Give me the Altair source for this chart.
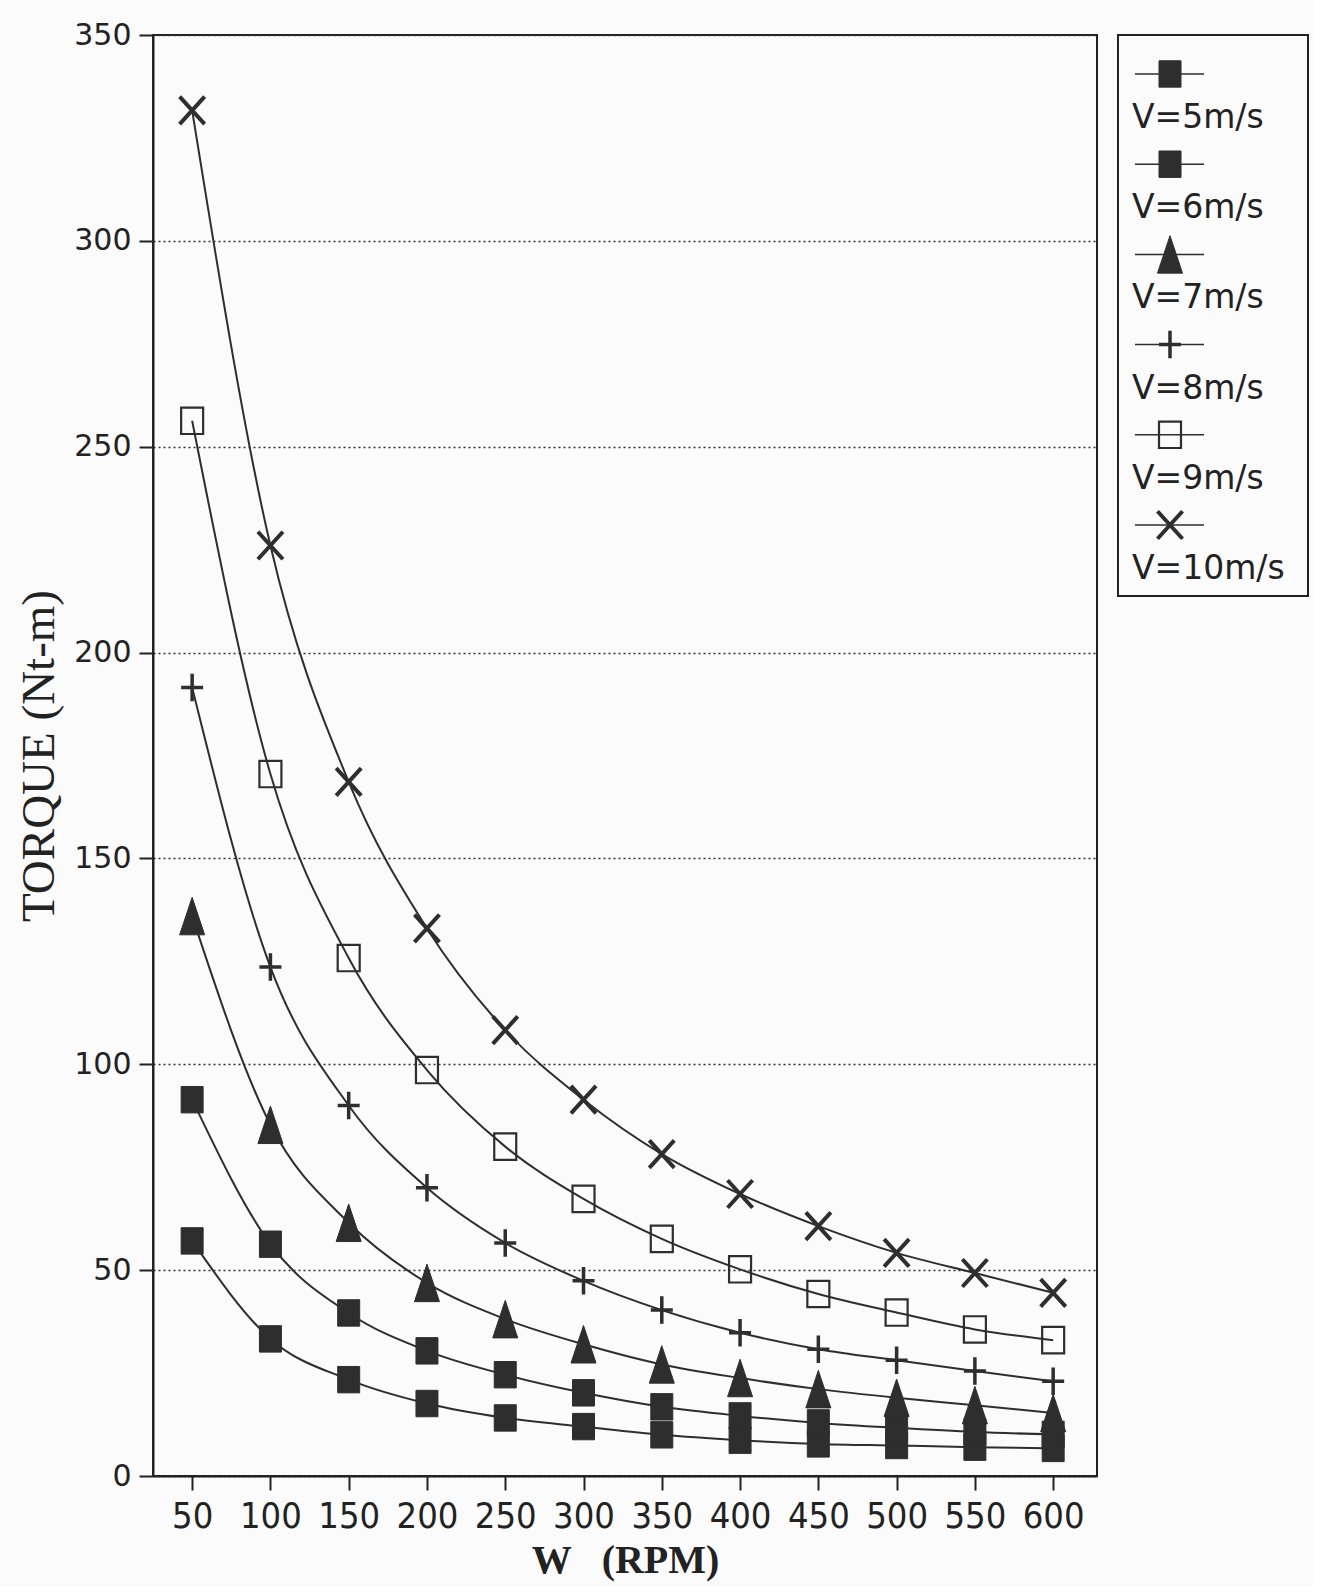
import altair as alt
import pandas as pd

# ---- data ----
rpm = [50, 100, 150, 200, 250, 300, 350, 400, 450, 500, 550, 600]
series_names = ["V=5m/s", "V=6m/s", "V=7m/s", "V=8m/s", "V=9m/s", "V=10m/s"]
v5 = [57.1, 33.3, 23.4, 17.6, 14.1, 12.0, 10.0, 8.7, 7.8, 7.4, 7.0, 6.7]
v6 = [91.4, 56.3, 39.6, 30.4, 24.6, 20.2, 16.8, 14.6, 12.9, 11.7, 10.7, 10.1]
v7 = [136.0, 85.3, 61.5, 46.9, 38.1, 32.0, 27.1, 23.8, 21.1, 19.0, 17.2, 15.3]
v8 = [191.5, 123.6, 90.0, 70.0, 56.6, 47.4, 40.3, 34.8, 30.8, 28.1, 25.5, 23.0]
v9 = [256.3, 170.5, 125.8, 98.6, 80.0, 67.3, 57.6, 50.2, 44.2, 39.7, 35.6, 33.0]
v10 = [331.7, 226.0, 168.6, 133.0, 108.3, 91.4, 78.2, 68.5, 60.7, 54.2, 49.3, 44.5]
y_ticks = [0, 50, 100, 150, 200, 250, 300, 350]

all_vals = [v5, v6, v7, v8, v9, v10]
rows = []
for name, vals in zip(series_names, all_vals):
    for w, t in zip(rpm, vals):
        rows.append({"series": name, "W": w, "T": t})
df = pd.DataFrame(rows)
leg_df = pd.DataFrame({"series": series_names, "idx": list(range(len(series_names)))})

# ---- styles ----
INK = "#2e2e2e"
SQ = "M-1,-1.2H1V1.2H-1Z"
TRI = "M-1,1.5L1,1.5L0,-1.5Z"
PLUS = "M-1,0H1M0,-1.25V1.25"
XMK = "M-1,-1.1L1,1.1M-1,1.1L1,-1.1"
styles = {
    "V=5m/s": dict(shape=SQ, filled=True, size=484, sw=1),
    "V=6m/s": dict(shape=SQ, filled=True, size=484, sw=1),
    "V=7m/s": dict(shape=TRI, filled=True, size=625, sw=1),
    "V=8m/s": dict(shape=PLUS, filled=False, size=484, sw=3.5),
    "V=9m/s": dict(shape=SQ, filled=False, size=484, sw=2.2),
    "V=10m/s": dict(shape=XMK, filled=False, size=625, sw=4),
}


def point_layer(base, name, x_enc, y_enc):
    st = styles[name]
    if st["filled"]:
        mk = base.mark_point(shape=st["shape"], filled=True, fill=INK, stroke=INK,
                             strokeWidth=st["sw"], size=st["size"], opacity=1)
    else:
        mk = base.mark_point(shape=st["shape"], filled=False, fill="transparent", stroke=INK,
                             strokeWidth=st["sw"], size=st["size"], opacity=1)
    return mk.encode(x=x_enc, y=y_enc).transform_filter(alt.datum.series == name)


# ---- main panel ----
base = alt.Chart(df)
xq = alt.X("W:Q", scale=alt.Scale(domain=[25, 628], nice=False, zero=False),
           axis=alt.Axis(values=rpm, title="W\u00a0\u00a0\u00a0(RPM)", grid=False, tickSize=14,
                         labelFont="DejaVu Sans Condensed", labelFontSize=36, labelPadding=9,
                         titleFont="Liberation Serif", titleFontSize=40, titleFontWeight="bold",
                         titlePadding=6))
yq = alt.Y("T:Q", scale=alt.Scale(domain=[0, 350], nice=False),
           axis=alt.Axis(values=y_ticks, title="TORQUE (Nt-m)", grid=True,
                         gridDash=[2, 3], gridColor="#333", gridWidth=1.5, tickSize=14,
                         labelFont="DejaVu Sans", labelFontSize=30, labelPadding=8,
                         titleFont="Liberation Serif", titleFontSize=47, titleFontWeight="normal",
                         titlePadding=10))

lines = base.mark_line(interpolate="monotone", color=INK, strokeWidth=2).encode(
    x=xq, y=yq, detail="series:N")
layers = [lines] + [point_layer(base, n, "W:Q", "T:Q") for n in series_names]
main = alt.layer(*layers).properties(width=944, height=1441)

# ---- legend panel ----
lbase = alt.Chart(leg_df)
ly = alt.Y("idx:Q", scale=alt.Scale(domain=[-0.432, 5.787], reverse=True, nice=False, zero=False),
           axis=None)
lrule = lbase.mark_rule(color=INK, strokeWidth=1.5).encode(
    x=alt.value(17), x2=alt.value(86), y=ly)
ltext = lbase.mark_text(align="left", baseline="middle", dy=44, font="DejaVu Sans",
                        fontSize=33, color="#222").encode(x=alt.value(14), y=ly, text="series:N")
lpts = [point_layer(lbase, n, alt.value(52), ly) for n in series_names]
legend = alt.layer(lrule, *lpts, ltext).properties(width=190, height=561)

chart = alt.hconcat(main, legend, spacing=21, bounds="flush").properties(
    padding={"left": 14, "top": 19, "right": 5, "bottom": 5},
    background="#fbfbfb",
).configure_view(stroke="#222", strokeWidth=2).configure_axis(
    domainColor="#222", domainWidth=2, tickColor="#222", tickWidth=2,
    labelColor="#222", titleColor="#222")

chart.save("out.html", embed_options={"renderer": "svg", "actions": False})
